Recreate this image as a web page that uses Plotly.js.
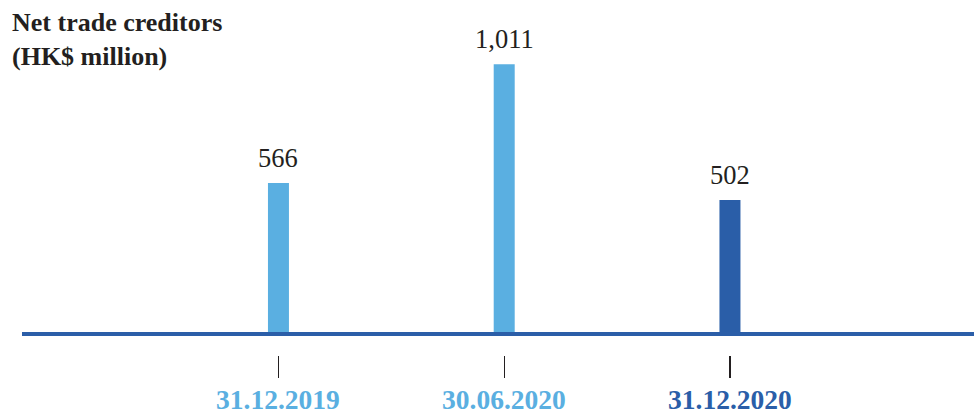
<!DOCTYPE html>
<html>
<head>
<meta charset="utf-8">
<script src="https://cdn.plot.ly/plotly-3.0.1.min.js"></script>
<style>html,body{margin:0;padding:0;background:#fff;}#chart{width:974px;height:409px;}</style>
</head>
<body>
<div id="chart"></div>
<script>
const categories = ["31.12.2019", "30.06.2020", "31.12.2020"];
const values = [566, 1011, 502];
const barColors = ["#5aafe1", "#5aafe1", "#2a5ea8"];
const labelColors = ["#5aafe1", "#5aafe1", "#2a5ea8"];
const chartTitle = "Net trade creditors<br>(HK$ million)";

const xs = categories.map((c, i) => i);
const serif = "Times New Roman, Liberation Serif, Tinos, DejaVu Serif, serif";

const trace = {
  type: "bar",
  x: xs,
  y: values,
  width: 0.093,
  marker: { color: barColors, line: { width: 0 } },
  hoverinfo: "skip"
};

const annotations = values.map((v, i) => ({
  x: xs[i], y: v, xref: "x", yref: "y",
  text: v.toLocaleString("en-US"),
  showarrow: false, yanchor: "bottom", yshift: 8,
  font: { family: serif, size: 26.5, color: "#231f20" }
}));
categories.forEach((c, i) => annotations.push({
  x: xs[i], y: 0, xref: "x", yref: "paper",
  text: "<b>" + c + "</b>",
  showarrow: false, yanchor: "top", yshift: -27,
  font: { family: serif, size: 27.5, color: labelColors[i] }
}));
annotations.push({
  xref: "paper", yref: "paper", x: -12 / 952, y: 1,
  xanchor: "left", yanchor: "top", align: "left", yshift: -6,
  showarrow: false,
  text: "<b>" + chartTitle + "</b>",
  font: { family: serif, size: 26, color: "#231f20" }
});

const layout = {
  width: 974, height: 409,
  margin: { l: 22, r: 0, t: 0, b: 54 },
  paper_bgcolor: "#fff", plot_bgcolor: "rgba(0,0,0,0)",
  showlegend: false,
  font: { family: serif },
  xaxis: {
    range: [-1.136, 3.081],
    tickvals: xs,
    ticktext: categories.map(() => ""),
    ticks: "outside", ticklen: 22, tickwidth: 1.2, tickcolor: "#231f20",
    showline: false, showgrid: false, zeroline: false
  },
  yaxis: {
    range: [-78.7, 1252],
    visible: false, showgrid: false, zeroline: false
  },
  annotations: annotations,
  shapes: [{
    type: "line", xref: "paper", yref: "y",
    x0: 0, x1: 1, y0: 0, y1: 0,
    line: { color: "#2b5ea8", width: 4 }, layer: "above"
  }]
};

Plotly.newPlot("chart", [trace], layout, { displayModeBar: false, staticPlot: true });
</script>
</body>
</html>
